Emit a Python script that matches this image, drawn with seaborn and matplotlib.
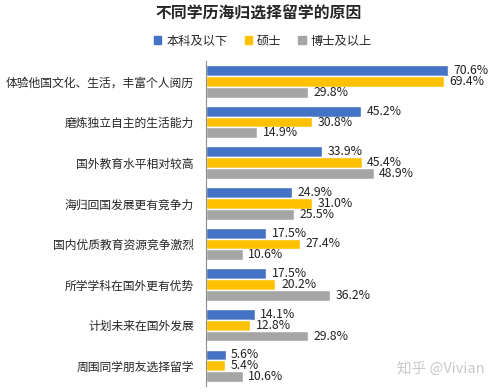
import numpy as np
import pandas as pd
import matplotlib
matplotlib.use("Agg")
import matplotlib.pyplot as plt
import seaborn as sns

reasons = ["体验他国文化、生活，丰富个人阅历", "磨炼独立自主的生活能力", "国外教育水平相对较高",
           "海归回国发展更有竞争力", "国内优质教育资源竞争激烈", "所学学科在国外更有优势",
           "计划未来在国外发展", "周围同学朋友选择留学"]
bachelor = [70.6, 45.2, 33.9, 24.9, 17.5, 17.5, 14.1, 5.6]
master = [69.4, 30.8, 45.4, 31.0, 27.4, 20.2, 12.8, 5.4]
doctor = [29.8, 14.9, 48.9, 25.5, 10.6, 36.2, 29.8, 10.6]
groups = ["本科及以下", "硕士", "博士及以上"]
colors = ["#4472C4", "#FFC000", "#A5A5A5"]

df = pd.DataFrame({
    "reason": reasons * 3,
    "group": np.repeat(groups, len(reasons)),
    "value": bachelor + master + doctor,
})

sns.set_style("white")
plt.rcParams["font.family"] = ["Noto Sans CJK SC", "DejaVu Sans"]

fig = plt.figure(figsize=(5.01, 3.92), dpi=100)
ax = fig.add_axes([0.412, 0.015, 0.57, 0.829])
sns.barplot(data=df, y="reason", x="value", hue="group", palette=colors,
            saturation=1, orient="h", width=0.8, ax=ax, legend=False)

for cont in ax.containers:
    ax.bar_label(cont, fmt="%.1f%%", padding=4, fontsize=8.8, color="#222222")

ax.set_xlim(0, 83.5)
ax.set_ylim(len(reasons) - 0.5, -0.5)
ax.set_xlabel("")
ax.set_ylabel("")
ax.set_xticks([])
ax.tick_params(axis="y", which="major", length=0, labelsize=8.5, pad=9)
ax.set_yticks(np.arange(-0.5, len(reasons), 1), minor=True)
ax.tick_params(axis="y", which="minor", length=4, color="#8c8c8c", width=0.8)
for s in ["top", "right", "bottom"]:
    ax.spines[s].set_visible(False)
ax.spines["left"].set_color("#8c8c8c")
ax.spines["left"].set_linewidth(0.8)

fig.text(0.517, 0.965, "不同学历海归选择留学的原因", ha="center", va="center",
         fontsize=11.4, fontweight="bold")

handles = [plt.Rectangle((0, 0), 1, 1, color=c) for c in colors]
fig.legend(handles, groups, loc="center", bbox_to_anchor=(0.525, 0.895), ncol=3,
           frameon=False, fontsize=8.8, handlelength=0.6, handleheight=0.6,
           handletextpad=0.4, columnspacing=1.4)

fig.text(0.88, 0.058, "知乎 @Vivian", ha="center", va="center", fontsize=10.5,
         color="#c8c8c8")

fig.savefig("out.png", dpi=100)
